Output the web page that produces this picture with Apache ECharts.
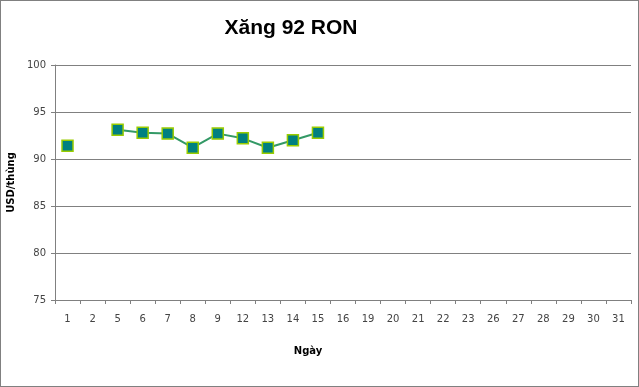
<!DOCTYPE html>
<html><head><meta charset="utf-8">
<script src="https://cdn.jsdelivr.net/npm/echarts@6/dist/echarts.min.js"></script>
<style>html,body{margin:0;padding:0;background:#fff}#c{width:639px;height:387px;box-sizing:border-box;border:1px solid #808080}</style>
</head><body><div id="c"></div>
<script>
var categories = ['1','2','5','6','7','8','9','12','13','14','15','16','19','20','21','22','23','26','27','28','29','30','31'];
var values = [91.4, null, 93.1, 92.8, 92.7, 91.2, 92.7, 92.2, 91.2, 92.0, 92.8, null, null, null, null, null, null, null, null, null, null, null, null];
var yTicks = [75, 80, 85, 90, 95, 100];

var chart = echarts.init(document.getElementById('c'), null, {renderer: 'canvas'});
chart.setOption({
  animation: false,
  title: {text: 'Xăng 92 RON', left: 285, top: 12, textAlign: 'center',
    textStyle: {fontFamily: 'Liberation Sans, Arial', fontSize: 21, fontWeight: 'bold', color: '#000'}},
  grid: {left: 54, right: 7, top: 64, bottom: 86, outerBoundsMode: 'none', containLabel: false},
  xAxis: {type: 'category', data: categories, boundaryGap: true,
    name: 'Ngày', nameLocation: 'middle', nameGap: 46,
    nameTextStyle: {fontFamily: 'DejaVu Sans', fontSize: 10, fontWeight: 'bold', color: '#000', padding: [0, 70, 0, 0]},
    axisLine: {lineStyle: {color: '#808080'}},
    axisTick: {show: true, length: 4, lineStyle: {color: '#808080'}, alignWithLabel: false},
    axisLabel: {interval: 0, margin: 14, color: '#444', fontFamily: 'DejaVu Sans', fontSize: 10},
    splitLine: {show: false}},
  yAxis: {type: 'value', min: 75, max: 100, interval: 5,
    name: 'USD/thùng', nameLocation: 'middle', nameGap: 36, nameRotate: 90,
    nameTextStyle: {fontFamily: 'DejaVu Sans', fontSize: 10, fontWeight: 'bold', color: '#000'},
    axisLine: {show: true, lineStyle: {color: '#808080'}},
    axisTick: {show: true, length: 4, lineStyle: {color: '#808080'}},
    axisLabel: {color: '#444', fontFamily: 'DejaVu Sans', fontSize: 10, margin: 9,
      formatter: function (v) { return yTicks.indexOf(v) >= 0 ? String(v) : ''; }},
    splitLine: {show: true, lineStyle: {color: '#808080', width: 1}}},
  series: [{type: 'line', data: values, connectNulls: false,
    symbol: 'rect', symbolSize: 11,
    lineStyle: {color: '#339966', width: 2},
    itemStyle: {color: '#008080', borderColor: '#99CC00', borderWidth: 1.5}}]
});
</script></body></html>
